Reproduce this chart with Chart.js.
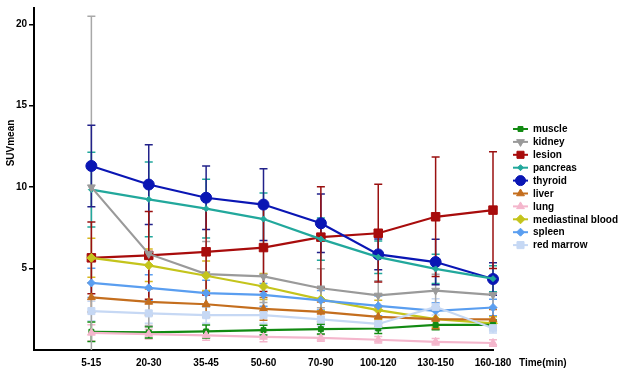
<!DOCTYPE html>
<html><head><meta charset="utf-8">
<script src="https://cdn.jsdelivr.net/npm/chart.js@4"></script>
<style>html,body{margin:0;padding:0;background:#fff}#w{width:625px;height:373px}</style>
</head><body><div id="w"><canvas id="c"></canvas></div>
<script>
const categories = ['5-15','20-30','35-45','50-60','70-90','100-120','130-150','160-180'];
const yTicks = [5, 10, 15, 20];
const seriesNames = ['muscle','kidney','lesion','pancreas','thyroid','liver','lung','mediastinal blood','spleen','red marrow'];

const muscle      = [1.12, 1.08, 1.14, 1.22, 1.28, 1.32, 1.54, 1.54];
const kidney      = [10.0, 5.9, 4.66, 4.52, 3.79, 3.35, 3.65, 3.39];
const lesion      = [5.66, 5.81, 6.03, 6.29, 6.93, 7.17, 8.18, 8.59];
const pancreas    = [9.85, 9.25, 8.68, 8.04, 6.81, 5.7, 4.98, 4.38];
const thyroid     = [11.3, 10.16, 9.35, 8.93, 7.78, 5.87, 5.4, 4.36];
const liver       = [3.23, 2.95, 2.81, 2.52, 2.34, 2.04, 1.9, 1.88];
const lung        = [1.05, 0.98, 0.9, 0.8, 0.74, 0.63, 0.5, 0.43];
const mediastinal = [5.66, 5.2, 4.56, 3.9, 3.11, 2.45, 1.9, 1.64];
const spleen      = [4.12, 3.82, 3.49, 3.39, 3.05, 2.71, 2.4, 2.61];
const redMarrow   = [2.39, 2.25, 2.14, 2.14, 1.88, 1.6, 2.65, 1.34];

const muscleSD      = [0.6, 0.35, 0.4, 0.3, 0.3, 0.3, 0.3, 0.3];
const kidneySD      = [10.5, 4.4, 2.0, 1.6, 1.2, 0.9, 1.0, 0.8];
const lesionSD      = [2.2, 2.7, 2.65, 2.7, 3.1, 3.0, 3.67, 3.58];
const pancreasSD    = [2.3, 2.3, 1.8, 1.6, 1.3, 1.0, 0.9, 0.8];
const thyroidSD     = [2.5, 2.45, 1.95, 2.2, 1.8, 0.95, 1.4, 1.0];
const liverSD       = [0.9, 0.8, 0.8, 0.7, 0.6, 0.6, 0.6, 0.6];
const lungSD        = [0.5, 0.3, 0.3, 0.3, 0.2, 0.2, 0.2, 0.2];
const mediastinalSD = [1.2, 1.0, 0.9, 0.8, 0.7, 0.6, 0.5, 0.4];
const spleenSD      = [0.9, 0.8, 0.8, 0.7, 0.6, 0.6, 0.5, 0.5];
const redMarrowSD   = [0.6, 0.6, 0.5, 0.5, 0.4, 0.4, 0.5, 0.3];

const values = [muscle, kidney, lesion, pancreas, thyroid, liver, lung, mediastinal, spleen, redMarrow];
const sds = [muscleSD, kidneySD, lesionSD, pancreasSD, thyroidSD, liverSD, lungSD, mediastinalSD, spleenSD, redMarrowSD];

const styles = [
  {color:'#128a12', bar:'#128a12', ps:'rect', r:3.5, rot:0},
  {color:'#9a9a9a', bar:'#a8a8a8', ps:'triangle', r:4.5, rot:180},
  {color:'#a80c0c', bar:'#9a1010', ps:'rect', r:6, rot:0},
  {color:'#22a89c', bar:'#22a89c', ps:'rectRot', r:3, rot:0},
  {color:'#0a16b4', bar:'#22228a', ps:'circle', r:5.5, rot:0},
  {color:'#c46e1e', bar:'#c46e1e', ps:'triangle', r:4.5, rot:0},
  {color:'#f4b6cc', bar:'#f4b6cc', ps:'triangle', r:4.5, rot:0},
  {color:'#c4c41c', bar:'#d8b820', ps:'rectRot', r:4.5, rot:0},
  {color:'#5a9ef0', bar:'#5a9ef0', ps:'rectRot', r:4, rot:0},
  {color:'#c6d8f4', bar:'#c6d8f4', ps:'rect', r:5, rot:0}
];

// draw order: background series first so prominent ones are on top
const order = [9, 6, 0, 5, 8, 7, 1, 3, 4, 2];

const datasets = order.map(i => ({
  label: seriesNames[i],
  data: values[i].map((v, k) => ({x: k, y: v})),
  sd: sds[i],
  barColor: styles[i].bar,
  borderColor: styles[i].color,
  backgroundColor: styles[i].color,
  pointStyle: styles[i].ps,
  pointRadius: styles[i].r,
  pointRotation: styles[i].rot,
  pointBorderWidth: 1,
  pointBorderColor: styles[i].color,
  borderWidth: 2.2,
  tension: 0,
  clip: false
}));

const drawMarker = (ctx, st, x, y) => {
  ctx.save();
  ctx.fillStyle = st.color; ctx.strokeStyle = st.color; ctx.lineWidth = 1;
  if (Chart.helpers && Chart.helpers.drawPoint) {
    Chart.helpers.drawPoint(ctx, {pointStyle: st.ps, radius: st.r, rotation: st.rot, borderWidth: 1}, x, y);
  }
  ctx.restore();
};

const errorBars = {
  id: 'errorBars',
  beforeDatasetsDraw(chart) {
    const ctx = chart.ctx, ys = chart.scales.y, xs = chart.scales.x, a = chart.chartArea;
    ctx.save();
    chart.data.datasets.forEach(ds => {
      ctx.strokeStyle = ds.barColor; ctx.lineWidth = 1.5;
      ds.data.forEach((p, k) => {
        const x = xs.getPixelForValue(p.x);
        const yt = ys.getPixelForValue(p.y + ds.sd[k]);
        let yb = ys.getPixelForValue(p.y - ds.sd[k]);
        const clip = yb > a.bottom;
        if (clip) yb = a.bottom;
        ctx.beginPath(); ctx.moveTo(x, yt); ctx.lineTo(x, yb);
        ctx.moveTo(x - 4, yt); ctx.lineTo(x + 4, yt);
        if (!clip) { ctx.moveTo(x - 4, yb); ctx.lineTo(x + 4, yb); }
        ctx.stroke();
      });
    });
    ctx.restore();
  }
};

const extras = {
  id: 'extras',
  afterDraw(chart) {
    const ctx = chart.ctx;
    ctx.save();
    ctx.font = 'bold 10px "Liberation Sans", Arial, sans-serif';
    ctx.fillStyle = '#000';
    ctx.save();
    ctx.translate(11, 143); ctx.rotate(-Math.PI / 2);
    ctx.textAlign = 'center'; ctx.textBaseline = 'middle';
    ctx.fillText('SUVmean', 0, 0);
    ctx.restore();
    ctx.textAlign = 'left'; ctx.textBaseline = 'middle';
    ctx.fillText('Time(min)', 519, 363);
    seriesNames.forEach((name, i) => {
      const st = styles[i];
      const y = 129 + i * 12.9;
      ctx.strokeStyle = st.color; ctx.lineWidth = 2;
      ctx.beginPath(); ctx.moveTo(513, y); ctx.lineTo(528, y); ctx.stroke();
      drawMarker(ctx, {...st, r: Math.min(st.r, 5)}, 520.5, y);
      ctx.fillStyle = '#000';
      ctx.fillText(name, 533, y + 0.5);
    });
    ctx.restore();
  }
};

new Chart(document.getElementById('c'), {
  type: 'line',
  data: { datasets },
  options: {
    responsive: true, maintainAspectRatio: false, animation: false,
    layout: { padding: { left: 0, right: 132, top: 3, bottom: 0 } },
    plugins: { legend: { display: false }, tooltip: { enabled: false } },
    scales: {
      x: {
        type: 'linear', min: -1, max: 7,
        afterBuildTicks: s => { s.ticks = categories.map((c, k) => ({value: k})); },
        afterFit: s => { s.height = 23; },
        ticks: { callback: v => categories[v] || '', font: {size: 10, weight: 'bold', family: '"Liberation Sans", Arial, sans-serif'}, color: '#000', padding: 7, maxRotation: 0, autoSkip: false },
        grid: { display: false, drawTicks: false },
        border: { display: true, color: '#000', width: 2 }
      },
      y: {
        min: 0, max: 21,
        afterBuildTicks: s => { s.ticks = yTicks.map(v => ({value: v})); },
        afterFit: s => { s.width = 34; },
        ticks: { font: {size: 10, weight: 'bold', family: '"Liberation Sans", Arial, sans-serif'}, color: '#000', padding: 2 },
        grid: { drawOnChartArea: false, drawTicks: true, tickLength: 5, color: '#000', lineWidth: 1.5 },
        border: { display: true, color: '#000', width: 2 }
      }
    }
  },
  plugins: [errorBars, extras]
});
</script></body></html>
